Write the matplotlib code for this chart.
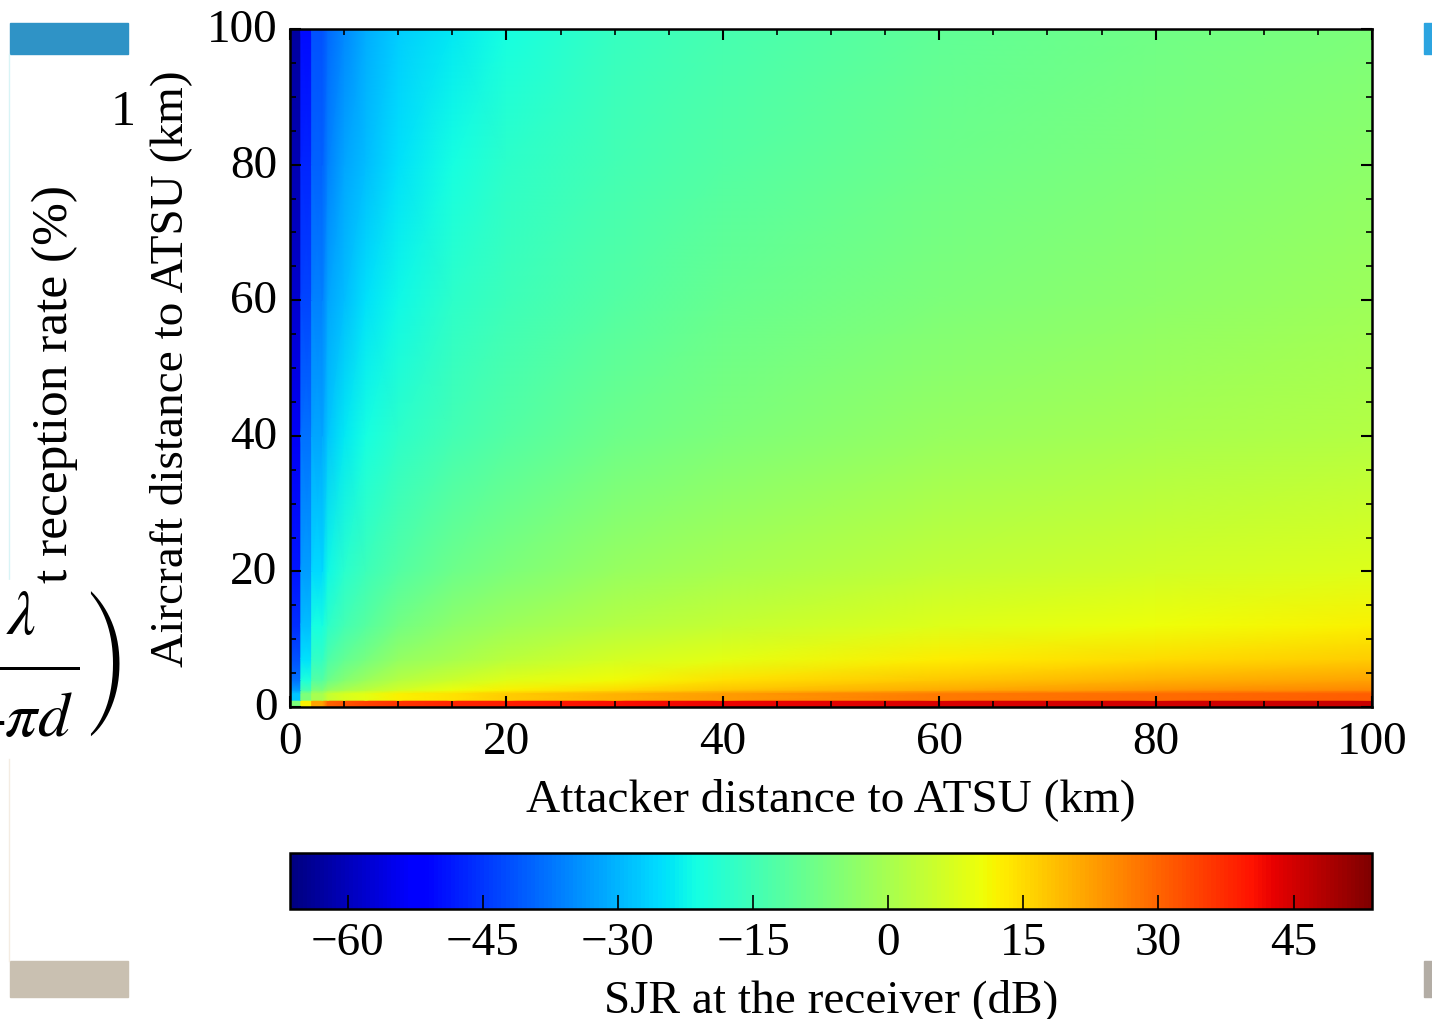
import numpy as np
import matplotlib
matplotlib.use("Agg")
import matplotlib.pyplot as plt
from matplotlib.patches import Rectangle
from matplotlib.ticker import MultipleLocator
from matplotlib.transforms import ScaledTranslation

plt.rcParams["font.family"] = ["Liberation Serif", "DejaVu Serif"]
plt.rcParams["mathtext.fontset"] = "stix"

# attacker distance (km) of each table column, aircraft distance (km) of each row
attacker_km = [0.5, 1.5, 2.5, 3.5, 5, 7, 10, 15, 20, 30, 40, 60, 80, 100]
aircraft_km = [0.5, 1.5, 2.5, 4, 7, 12, 20, 40, 60, 80, 100]

sjr_y0_5 = [-6, 12, 22, 30, 32, 34, 36, 38, 39, 41, 42, 44, 45, 46]
sjr_y1_5 = [-28, -6, 0, 4, 7, 9, 12, 14, 17, 20, 23, 27, 29, 31]
sjr_y2_5 = [-33, -14, -6, -3, 0, 3, 6, 10, 12, 15, 18, 21, 24, 26]
sjr_y4 = [-38, -20, -12, -9, -5, -2, 2, 5, 8, 11, 14, 17.5, 20, 22]
sjr_y7 = [-42, -25, -17, -13, -10, -7, -3, 0, 3, 6.5, 9, 12.5, 15, 17]
sjr_y12 = [-46, -29, -21, -18, -14.5, -11.7, -7.6, -4, -1.6, 2, 4.4, 8, 10.4, 12.4]
sjr_y20 = [-49, -33, -26, -22, -18.5, -15.5, -12, -8.5, -6, -2.5, 0, 3.6, 6, 8]
sjr_y40 = [-54, -38, -32, -28, -24, -21, -18, -14.5, -12, -8.5, -6, -2.4, 0, 2]
sjr_y60 = [-58, -43, -36, -32, -29, -25, -22, -18, -15.6, -12, -9.6, -6, -3.6, -1.6]
sjr_y80 = [-61, -47, -40, -36, -32, -29, -25, -21, -18, -14.5, -12, -8.4, -6, -4]
sjr_y100 = [-63, -50, -42, -39, -35, -31, -27, -24, -21, -16.5, -14, -10.4, -8, -6]

SJR_MIN = -66.4
SJR_MAX = 53.7
distance_ticks = [0, 20, 40, 60, 80, 100]
sjr_ticks = [-60, -45, -30, -15, 0, 15, 30, 45]

W, H = 1432, 1020
FS = 34


def axes_rect(left, top, right, bottom):
    return [left / W, 1 - bottom / H, (right - left) / W, (bottom - top) / H]


fig = plt.figure(figsize=(W / 100, H / 100), dpi=100)

# leftovers of the page around the chart
page = fig.add_axes([0, 0, 1, 1])
page.set_xlim(0, W)
page.set_ylim(H, 0)
page.axis("off")
page.add_patch(Rectangle((10, 24), 118, 31, color="#2f93c6"))
page.add_patch(Rectangle((1424, 24), 8, 31, color="#2ca4e0"))
page.add_patch(Rectangle((10, 962), 118, 36, color="#c9c0b1"))
page.add_patch(Rectangle((1424, 962), 8, 36, color="#b3ada5"))
page.plot([9, 9], [55, 580], color="#d8f4f6", lw=1)
page.plot([9, 9], [760, 962], color="#f4ece2", lw=1)
page.text(123, 113, "1", fontsize=36, ha="center", va="center")
page.text(55, 384, "t reception rate (%)", fontsize=37, rotation=90, ha="center", va="center")
page.add_patch(Rectangle((0, 581), 90, 30, color="white", zorder=2))
page.text(121, 665,
          r"$\left.\dfrac{\genfrac{}{}{0}{0}{\lambda}{\,}}{\genfrac{}{}{0}{0}{\,}{4\pi d}}\right)$",
          fontsize=46, ha="right", va="center", zorder=3)

# node positions: the narrow cells next to the axes stay flat across their width
x_nodes = [0, 1, 1, 2, 2, 3, 3.5, 5, 7, 10, 15, 20, 30, 40, 60, 80, 100]
y_nodes = [0, 1, 1, 2, 2.5, 4, 7, 12, 20, 40, 60, 80, 100]
x_index = [0, 0, 1, 1, 2, 2, 3, 4, 5, 6, 7, 8, 9, 10, 11, 12, 13]
y_index = [0, 0, 1, 1, 2, 3, 4, 5, 6, 7, 8, 9, 10]

sjr = np.array([sjr_y0_5, sjr_y1_5, sjr_y2_5, sjr_y4, sjr_y7, sjr_y12,
                sjr_y20, sjr_y40, sjr_y60, sjr_y80, sjr_y100])
grid = sjr[np.ix_(y_index, x_index)]
X, Y = np.meshgrid(x_nodes, y_nodes)

ax = fig.add_axes(axes_rect(290, 30, 1372, 708))
mesh = ax.pcolormesh(X, Y, grid, cmap="jet", vmin=SJR_MIN, vmax=SJR_MAX, shading="gouraud")
ax.set_xlim(0, 100)
ax.set_ylim(0, 100)
ax.set_xticks(distance_ticks)
ax.set_yticks(distance_ticks)
ax.xaxis.set_minor_locator(MultipleLocator(5))
ax.yaxis.set_minor_locator(MultipleLocator(5))
ax.tick_params(which="major", direction="in", top=True, right=True, length=8, width=1.5,
               labelsize=FS, pad=10)
ax.tick_params(axis="y", which="major", pad=9)
ax.tick_params(which="minor", direction="in", top=True, right=True, length=4, width=1.2)
ax.set_xlabel("Attacker distance to ATSU (km)", fontsize=FS, labelpad=10)
ax.set_ylabel("Aircraft distance to ATSU (km)", fontsize=FS, labelpad=10.5)
for spine in ax.spines.values():
    spine.set_linewidth(1.8)

# y tick labels sit a little above their ticks in the original
for label in ax.get_yticklabels():
    label.set_transform(label.get_transform() + ScaledTranslation(0, 3 / 72, fig.dpi_scale_trans))

cax = fig.add_axes(axes_rect(290, 854, 1372, 910))
cbar = fig.colorbar(mesh, cax=cax, orientation="horizontal")
cbar.set_ticks(sjr_ticks)
cbar.ax.tick_params(direction="in", length=10, width=1.2, labelsize=FS, pad=9)
cbar.set_label("SJR at the receiver (dB)", fontsize=FS, labelpad=10.5)
cbar.outline.set_linewidth(1.8)

fig.savefig("out.png", dpi=100)
